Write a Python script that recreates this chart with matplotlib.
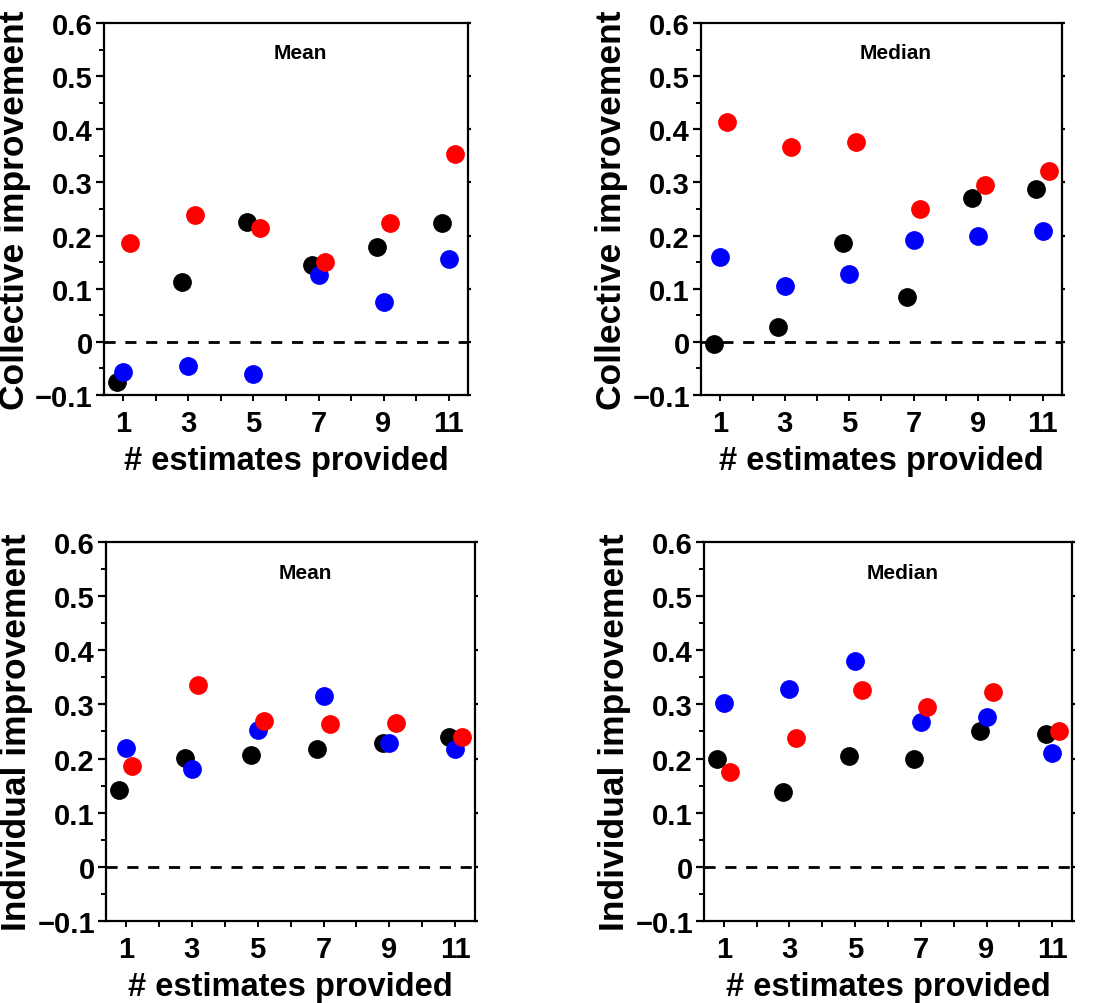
import matplotlib
matplotlib.use("Agg")
import matplotlib.pyplot as plt
import numpy as np
from matplotlib.ticker import MultipleLocator, FixedLocator

plt.rcParams['font.family'] = ['Liberation Sans', 'DejaVu Sans']
plt.rcParams['font.weight'] = 'bold'

n_estimates = np.array([1, 3, 5, 7, 9, 11])

# collective improvement, mean aggregation
coll_mean_black = [-0.075, 0.113, 0.226, 0.144, 0.178, 0.223]
coll_mean_blue = [-0.056, -0.045, -0.061, 0.125, 0.075, 0.156]
coll_mean_red = [0.186, 0.238, 0.214, 0.151, 0.224, 0.353]

# collective improvement, median aggregation
coll_med_black = [-0.005, 0.028, 0.186, 0.085, 0.271, 0.287]
coll_med_blue = [0.159, 0.105, 0.127, 0.192, 0.200, 0.209]
coll_med_red = [0.413, 0.367, 0.376, 0.250, 0.295, 0.321]

# individual improvement, mean
ind_mean_black = [0.142, 0.201, 0.207, 0.217, 0.229, 0.239]
ind_mean_blue = [0.219, 0.180, 0.252, 0.316, 0.229, 0.217]
ind_mean_red = [0.187, 0.336, 0.270, 0.263, 0.265, 0.239]

# individual improvement, median
ind_med_black = [0.199, 0.138, 0.205, 0.199, 0.251, 0.246]
ind_med_blue = [0.302, 0.328, 0.380, 0.268, 0.276, 0.210]
ind_med_red = [0.176, 0.238, 0.327, 0.296, 0.323, 0.251]

fig = plt.figure(figsize=(11, 10.04), dpi=100)

panels = [
    ([0.0945, 0.6056, 0.331, 0.3705], 'Mean', 'Collective improvement',
     coll_mean_black, coll_mean_blue, coll_mean_red),
    ([0.6373, 0.6056, 0.328, 0.3705], 'Median', 'Collective improvement',
     coll_med_black, coll_med_blue, coll_med_red),
    ([0.0964, 0.0817, 0.3355, 0.3775], 'Mean', 'Individual improvement',
     ind_mean_black, ind_mean_blue, ind_mean_red),
    ([0.640, 0.0817, 0.3345, 0.3775], 'Median', 'Individual improvement',
     ind_med_black, ind_med_blue, ind_med_red),
]

for rect, title, ylab, blk, blu, red in panels:
    ax = fig.add_axes(rect)
    ax.axhline(0, color='black', lw=2, ls=(0, (4, 3.5)), zorder=1)
    ax.plot(n_estimates - 0.2, blk, 'o', color='black', ms=12.5, zorder=3)
    ax.plot(n_estimates, blu, 'o', color='#0000ff', ms=12.5, zorder=3)
    ax.plot(n_estimates + 0.2, red, 'o', color='#ff0000', ms=12.5, zorder=3)

    ax.set_xlim(0.4, 11.6)
    ax.set_ylim(-0.1, 0.6)
    ax.set_xticks(n_estimates)
    ax.set_xticklabels([str(v) for v in n_estimates])
    ax.xaxis.set_minor_locator(FixedLocator([2, 4, 6, 8, 10]))
    ax.set_yticks([-0.1, 0, 0.1, 0.2, 0.3, 0.4, 0.5, 0.6])
    ax.set_yticklabels(['\u22120.1', '0', '0.1', '0.2', '0.3', '0.4', '0.5', '0.6'])
    ax.yaxis.set_minor_locator(MultipleLocator(0.05))

    for s in ax.spines.values():
        s.set_linewidth(1.6)
    ax.tick_params(axis='y', which='major', direction='out', length=6,
                   width=1.6, labelsize=21, pad=2)
    ax.tick_params(axis='y', which='minor', direction='out', length=3.5, width=1.4)
    ax.tick_params(axis='x', which='both', direction='out', length=4,
                   width=1.4, labelsize=21, pad=6)
    ax.tick_params(axis='y', which='major', right=True, labelright=False)
    # short marks on the right spine
    for t in ax.yaxis.get_major_ticks():
        t.tick2line.set_markersize(2)

    ax.set_xlabel('# estimates provided', fontsize=23.5, fontweight='bold', labelpad=6)
    ax.set_ylabel(ylab, fontsize=25.5, fontweight='bold', labelpad=3)
    ax.text(0.54, 0.92, title, transform=ax.transAxes, ha='center', va='center',
            fontsize=15, fontweight='bold')

fig.savefig('out.png', dpi=100)
